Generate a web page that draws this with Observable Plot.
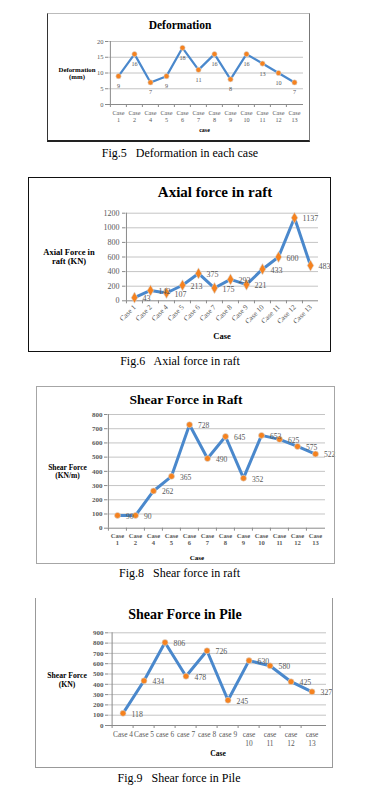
<!DOCTYPE html>
<html><head><meta charset="utf-8">
<script src="https://cdn.jsdelivr.net/npm/d3@7"></script>
<script src="https://cdn.jsdelivr.net/npm/@observablehq/plot@0.6"></script>
<style>
body{margin:0;background:#fff;}
#page{position:relative;width:373px;height:790px;overflow:hidden;font-family:"Liberation Serif",serif;background:#fff;}
.lbl{position:absolute;white-space:pre;transform:translate(-50%,-50%);text-align:center;color:#000;}
.frame{position:absolute;box-sizing:border-box;pointer-events:none;}
.chart{position:absolute;}
.chart svg{overflow:visible;}
</style></head><body><div id="page"></div>
<script>
// ---- data ----
const cases1 = ["Case 1","Case 2","Case 4","Case 5","Case 6","Case 7","Case 8","Case 9","Case 10","Case 11","Case 12","Case 13"];
const deformation = [9,16,7,9,18,11,16,8,16,13,10,7];
const yTicks1 = [0,5,10,15,20];

const cases2 = ["Case 1","Case 2","Case 4","Case 5","Case 6","Case 7","Case 8","Case 9","Case 10","Case 11","Case 12","Case 13"];
const axialForce = [43,142,107,213,375,175,293,221,433,600,1137,483];
const yTicks2 = [0,200,400,600,800,1000,1200];

const cases3 = ["Case 1","Case 2","Case 4","Case 5","Case 6","Case 7","Case 8","Case 9","Case 10","Case 11","Case 12","Case 13"];
const shearRaft = [90,90,262,365,728,490,645,352,653,625,575,522];
const yTicks3 = [0,100,200,300,400,500,600,700,800];

const cases4 = ["Case 4","Case 5","case 6","case 7","case 8","case 9","case 10","case 11","case 12","case 13"];
const shearPile = [118,434,806,478,726,245,630,580,425,327];
const yTicks4 = [0,100,200,300,400,500,600,700,800,900];

// ---- helpers ----
const page = document.getElementById("page");
const BLUE = "#4a88cc", ORANGE = "#f5821f", GRID = "#c4c4c4", AXIS = "#8a8a8a", TXT = "#595959";

function label(text, cx, cy, size, weight, lh) {
  const d = document.createElement("div");
  d.className = "lbl";
  d.textContent = text;
  d.style.left = cx + "px"; d.style.top = cy + "px";
  d.style.fontSize = size + "px";
  d.style.fontWeight = weight || "normal";
  d.style.lineHeight = (lh || size * 1.15) + "px";
  page.appendChild(d);
}

function chart(c) {
  const data = c.cats.map((k, i) => ({k, v: c.vals[i]}));
  const bw = (c.plot.x1 - c.plot.x0) / c.cats.length;
  const ymax = c.yTicks[c.yTicks.length - 1];
  const svg = Plot.plot({
    width: c.frame.w, height: c.frame.h,
    marginLeft: c.plot.x0 - c.frame.x,
    marginRight: c.frame.x + c.frame.w - c.plot.x1,
    marginTop: c.plot.y0 - c.frame.y,
    marginBottom: c.frame.y + c.frame.h - c.plot.y1,
    style: {background: "transparent", fontFamily: "Liberation Serif, serif", overflow: "visible"},
    x: {type: "band", domain: c.cats, padding: 0, axis: null},
    y: {domain: [0, ymax], axis: null},
    marks: [
      Plot.gridY(c.yTicks.slice(1), {stroke: GRID, strokeOpacity: 1, strokeWidth: 1}),
      Plot.ruleY([0], {stroke: AXIS}),
      Plot.ruleX([c.cats[0]], {dx: -bw / 2, stroke: AXIS}),
      Plot.axisY(c.yTicks, {label: null, tickSize: 3, tickPadding: c.yPad, tickFormat: d => String(d),
        fontSize: c.yFont, fontWeight: c.yWeight || "normal", fill: TXT, stroke: AXIS}),
      Plot.axisX(c.cats, {label: null, tickSize: 3, tickFormat: () => "", dx: -bw / 2, stroke: AXIS}),
      Plot.axisX(c.cats, {label: null, tickSize: 0, tickPadding: c.xPad, tickFormat: c.xFormat, tickRotate: c.xRotate || 0,
        fontSize: c.xFont, fontWeight: c.xWeight || "normal", lineHeight: c.xLine || 1.15, fill: TXT}),
      Plot.line(data, {x: "k", y: "v", stroke: BLUE, strokeWidth: c.lineW, strokeLinejoin: "miter"}),
      Plot.dot(data, {x: "k", y: "v", fill: ORANGE, r: c.r, symbol: c.symbol, stroke: "#d9d9d9", strokeWidth: 0.6}),
      Plot.text(data, {x: "k", y: "v", text: d => String(d.v), dx: c.lblDx, dy: c.lblDy,
        textAnchor: c.lblAnchor, fontSize: c.lblFont, fill: TXT})
    ]
  });
  const holder = document.createElement("div");
  holder.className = "chart";
  holder.style.left = c.frame.x + "px"; holder.style.top = c.frame.y + "px";
  holder.appendChild(svg);
  page.appendChild(holder);
  const fr = document.createElement("div");
  fr.className = "frame";
  fr.style.left = c.frame.x + "px"; fr.style.top = c.frame.y + "px";
  fr.style.width = c.frame.w + "px"; fr.style.height = c.frame.h + "px";
  Object.assign(fr.style, c.border);
  page.appendChild(fr);
}

const wrapAll = d => d.replace(" ", "\n");
const wrapLong = d => d.length > 6 ? d.replace(" ", "\n") : d;

// ---- Fig.5 ----
chart({
  frame: {x: 47, y: 13, w: 263, h: 129}, plot: {x0: 108, x1: 303, y0: 41, y1: 104},
  cats: cases1, vals: deformation, yTicks: yTicks1,
  yFont: 6.5, yPad: 2, xFont: 6.2, xPad: 6, xLine: 1.12, xFormat: wrapAll,
  lineW: 2.2, r: 2.6, symbol: "circle",
  lblDx: 0, lblDy: 10, lblAnchor: "middle", lblFont: 6.2,
  border: {borderLeft: "1.5px solid #333", borderBottom: "2px solid #222", borderRight: "1px solid #777", borderTop: "1px solid #bbb"}
});
label("Deformation", 180, 26, 11.5, "bold");
label("Deformation\n(mm)", 77, 72.5, 6.8, "bold", 7);
label("case", 204.5, 130, 6, "bold");
label("Fig.5   Deformation in each case", 180, 153, 12, "normal", 14);

// ---- Fig.6 ----
chart({
  frame: {x: 28, y: 177, w: 303, h: 175}, plot: {x0: 125, x1: 318, y0: 212.7, y1: 300.3},
  cats: cases2, vals: axialForce, yTicks: yTicks2,
  yFont: 8, yPad: 3, xFont: 7.3, xPad: 5, xRotate: -45, xFormat: d => d,
  lineW: 3, r: 3.4, symbol: "diamond",
  lblDx: 8, lblDy: 1, lblAnchor: "start", lblFont: 8,
  border: {border: "1.5px solid #111"}
});
label("Axial force in raft", 215, 193, 15, "bold");
label("Axial Force in\nraft (KN)", 69, 257, 8.5, "bold", 9);
label("Case", 222, 337, 8.5, "bold");
label("Fig.6   Axial force in raft", 180, 361, 12, "normal", 14);

// ---- Fig.8 ----
chart({
  frame: {x: 36, y: 386, w: 299, h: 178}, plot: {x0: 107, x1: 325, y0: 414, y1: 527.7},
  cats: cases3, vals: shearRaft, yTicks: yTicks3,
  yFont: 7, yWeight: "bold", yPad: 2, xFont: 6.6, xWeight: "bold", xPad: 4.5, xLine: 1.12, xFormat: wrapAll,
  lineW: 3, r: 3, symbol: "circle",
  lblDx: 8.5, lblDy: 1, lblAnchor: "start", lblFont: 7.6,
  border: {border: "1px solid #a6a6a6"}
});
label("Shear Force in Raft", 186, 400, 13.5, "bold");
label("Shear Force\n(KN/m)", 67.5, 472, 7.5, "bold", 8);
label("Case", 197, 558, 7, "bold");
label("Fig.8   Shear force in raft", 179.5, 573, 12, "normal", 14);

// ---- Fig.9 ----
chart({
  frame: {x: 35, y: 598, w: 298, h: 170}, plot: {x0: 108, x1: 326, y0: 632.3, y1: 725},
  cats: cases4, vals: shearPile, yTicks: yTicks4,
  yFont: 7, yWeight: "bold", yPad: 2, xFont: 7.4, xPad: 5.5, xLine: 1.2, xFormat: wrapLong,
  lineW: 3, r: 3, symbol: "circle",
  lblDx: 8.5, lblDy: 1, lblAnchor: "start", lblFont: 7.8,
  border: {borderLeft: "1px solid #999", borderRight: "1px solid #999", borderBottom: "1px solid #999"}
});
label("Shear Force in Pile", 185, 615, 14, "bold");
label("Shear Force\n(KN)", 67, 679.5, 7.7, "bold", 9);
label("Case", 218, 754, 7.6, "bold");
label("Fig.9   Shear force in Pile", 179, 778, 12, "normal", 14);
</script></body></html>
